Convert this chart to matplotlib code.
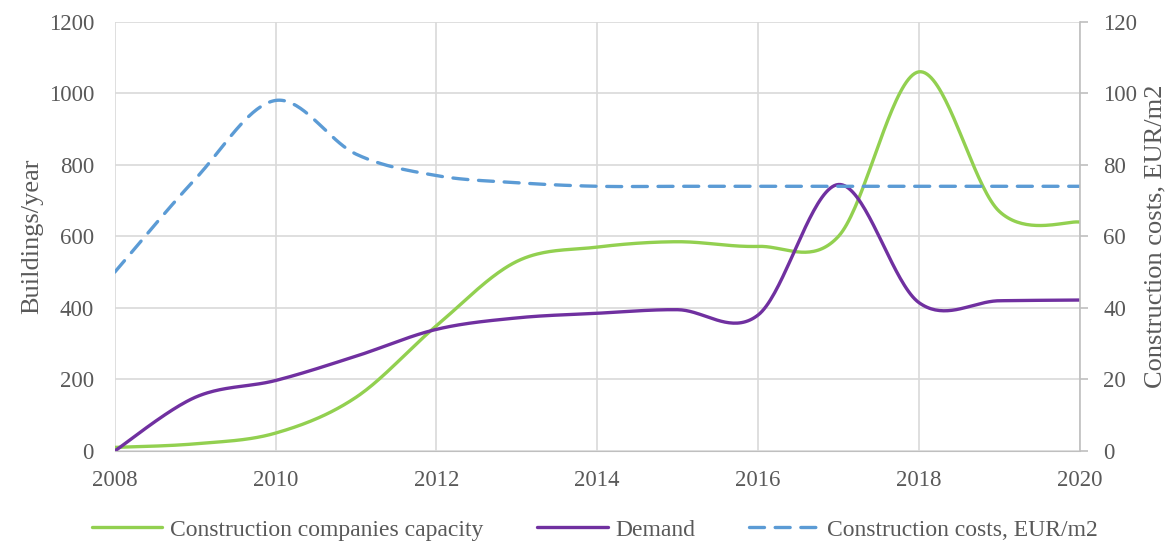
import numpy as np
import matplotlib.pyplot as plt

plt.rcParams["font.family"] = ["Liberation Serif", "DejaVu Serif"]

years = [2008, 2009, 2010, 2011, 2012, 2013, 2014, 2015, 2016, 2017, 2018, 2019, 2020]
capacity = [10, 20, 50, 150, 350, 530, 570, 585, 572, 600, 1060, 670, 640]
demand = [0, 150, 197, 265, 340, 372, 385, 395, 380, 745, 415, 420, 422]
costs = [50, 76, 98, 83, 77, 75, 74, 74, 74, 74, 74, 74, 74]

TXT = "#595959"
GRID = "#D9D9D9"


def smooth(x, y, n=40):
    """Excel 风格平滑曲线 (Catmull-Rom)"""
    x = np.asarray(x, float)
    y = np.asarray(y, float)
    px = np.concatenate([[x[0]], x, [x[-1]]])
    py = np.concatenate([[y[0]], y, [y[-1]]])
    xs, ys = [], []
    t = np.linspace(0, 1, n)
    for i in range(1, len(px) - 2):
        for p, out in ((px, xs), (py, ys)):
            p0, p1, p2, p3 = p[i - 1], p[i], p[i + 1], p[i + 2]
            c1 = p1 + (p2 - p0) / 6
            c2 = p2 - (p3 - p1) / 6
            out.append((1 - t) ** 3 * p1 + 3 * (1 - t) ** 2 * t * c1 + 3 * (1 - t) * t ** 2 * c2 + t ** 3 * p2)
    return np.concatenate(xs), np.concatenate(ys)


fig, ax = plt.subplots(figsize=(11.71, 5.44), dpi=100)
fig.subplots_adjust(left=0.098, right=0.922, top=0.96, bottom=0.171)
ax2 = ax.twinx()

ax.plot(*smooth(years, capacity), color="#92D050", lw=2.4, label="Construction companies capacity", solid_capstyle="round")
ax.plot(*smooth(years, demand), color="#7030A0", lw=2.4, label="Demand", solid_capstyle="round")
ax2.plot(*smooth(years, costs), color="#5B9BD5", lw=2.4, ls=(0, (4.5, 3.2)), dash_capstyle="round",
         label="Construction costs, EUR/m2")

ax.set_xlim(2008, 2020)
ax.set_ylim(0, 1200)
ax2.set_ylim(0, 120)
ax.set_xticks(range(2008, 2021, 2))
ax.set_yticks(range(0, 1201, 200))
ax2.set_yticks(range(0, 121, 20))

ax.grid(True, color=GRID, lw=1.2)
ax.set_axisbelow(True)
for a in (ax, ax2):
    for s in a.spines.values():
        s.set_visible(False)
ax.spines["bottom"].set_visible(True)
ax.spines["bottom"].set_color("#BFBFBF")
ax2.spines["right"].set_visible(True)
ax2.spines["right"].set_color("#BFBFBF")
ax2.spines["right"].set_linewidth(1.2)

ax.tick_params(axis="y", length=0, labelsize=16.5, labelcolor=TXT, pad=15)
ax.tick_params(axis="x", length=0, labelsize=16.5, labelcolor=TXT, pad=14)
ax2.tick_params(axis="y", length=6, color="#BFBFBF", width=1.2, labelsize=16.5, labelcolor=TXT, pad=11)

ax.set_ylabel("Buildings/year", fontsize=19, color=TXT, labelpad=4)
ax2.set_ylabel("Construction costs, EUR/m2", fontsize=19, color=TXT, labelpad=5)

h1, l1 = ax.get_legend_handles_labels()
h2, l2 = ax2.get_legend_handles_labels()
fig.legend(h1 + h2, l1 + l2, loc="center", ncol=3, frameon=False, fontsize=17,
           labelcolor=TXT, bbox_to_anchor=(0.508, 0.026), handlelength=3.0,
           handletextpad=0.3, columnspacing=2.3)

fig.savefig("out.png", dpi=100)
